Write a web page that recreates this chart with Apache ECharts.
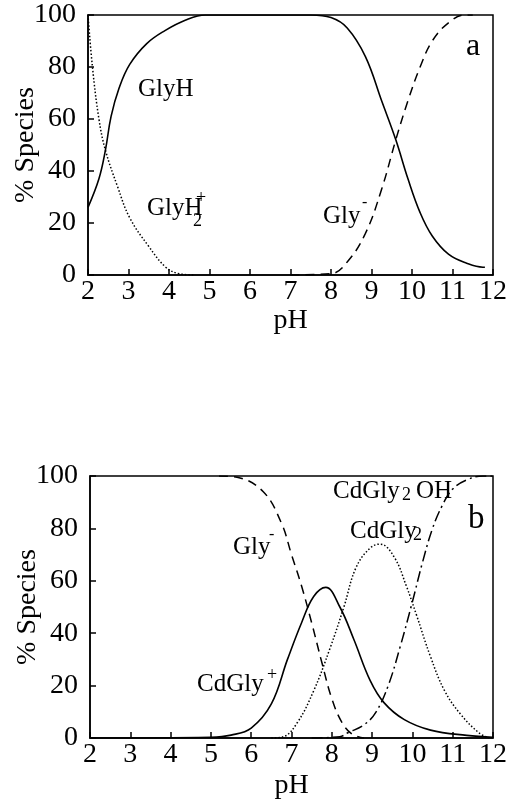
<!DOCTYPE html>
<html>
<head>
<meta charset="utf-8">
<script src="https://cdn.jsdelivr.net/npm/echarts@6/dist/echarts.min.js"></script>
<style>
  html, body { margin: 0; padding: 0; background: #fff; }
  #chart { width: 509px; height: 801px; }
</style>
</head>
<body>
<div id="chart"></div>
<script>
// panel a: glycine species
var phGlyH2 = [2, 2.11, 2.27, 2.43, 2.73, 3.03, 3.5, 3.92, 4.25, 4.6];
var valGlyH2 = [100, 80, 60, 48, 34, 22, 11, 3, 0.5, 0];

var phGlyH = [2, 2.27, 2.43, 2.57, 2.77, 3.03, 3.45, 3.9, 4.4, 4.9, 6, 7, 7.5, 8.0, 8.4, 8.85, 9.25, 9.6, 9.9, 10.2, 10.5, 10.9, 11.35, 11.75, 11.8];
var valGlyH = [26, 37, 48, 61, 72, 81, 89, 94, 98, 100, 100, 100, 100, 99, 95, 84, 67, 52, 37, 24, 15, 8, 4.5, 3, 3];

var phGlyA = [7, 8, 8.4, 8.85, 9.25, 9.6, 9.9, 10.2, 10.5, 10.9, 11.3, 11.5];
var valGlyA = [0, 0.5, 5, 16, 33, 52, 67, 80, 90, 97, 100, 100];

// panel b: Cd-glycine species
var phGlyB = [5.2, 5.65, 6.3, 6.75, 7.0, 7.25, 7.5, 7.75, 8.0, 8.25, 8.5, 8.8];
var valGlyB = [100, 99.5, 94, 82, 70, 58, 44, 29, 15, 6, 1.5, 0];

var phCdGly = [2, 5, 5.5, 6.0, 6.5, 6.9, 7.25, 7.55, 7.85, 8.2, 8.55, 8.95, 9.3, 9.8, 10.45, 11.35, 12];
var valCdGly = [0, 0.3, 1.1, 3.8, 13, 30, 44, 54, 57.5, 50, 37.5, 22, 13.4, 7, 3, 1, 0.3];

var phCdGly2 = [6.5, 6.8, 7.15, 7.55, 7.95, 8.3, 8.6, 8.95, 9.2, 9.55, 9.85, 10.1, 10.45, 10.8, 11.2, 11.65, 11.9];
var valCdGly2 = [0, 0.5, 6, 18, 34, 50, 65, 72.5, 74, 69, 58, 47, 31, 18, 9, 2, 0];

var phCdGly2OH = [7.5, 8.2, 8.4, 8.8, 9.1, 9.4, 9.7, 10.0, 10.25, 10.5, 10.75, 11.0, 11.35, 11.75, 12];
var valCdGly2OH = [0, 0.5, 2, 5, 10, 20, 35, 52, 67, 80, 89, 95, 98.5, 100, 100];

var yTicks = [0, 20, 40, 60, 80, 100];

function pairs(xs, ys) {
    var res = [];
    for (var i = 0; i < xs.length; i++) res.push([xs[i], ys[i]]);
    return res;
}

var FONT = '"Liberation Serif", "DejaVu Serif", serif';

function xAxisOf(idx) {
    return {
        type: 'value', gridIndex: idx, min: 2, max: 12, interval: 1,
        name: 'pH', nameLocation: 'middle', nameGap: idx === 0 ? 32 : 34,
        nameTextStyle: { fontFamily: FONT, fontSize: 28, color: '#000' },
        axisLine: { lineStyle: { color: '#000', width: 1.5 } },
        axisTick: { inside: true, length: 6, lineStyle: { color: '#000', width: 1.5 } },
        axisLabel: { fontFamily: FONT, fontSize: 28, color: '#000', margin: 3 },
        splitLine: { show: false }
    };
}

function yAxisOf(idx) {
    return {
        type: 'value', gridIndex: idx, min: 0, max: 100, interval: 20,
        name: '% Species', nameLocation: 'middle', nameGap: 48, nameMoveOverlap: false,
        nameTextStyle: { fontFamily: FONT, fontSize: 28, color: '#000' },
        axisLine: { lineStyle: { color: '#000', width: 1.5 } },
        axisTick: { inside: true, length: 6, lineStyle: { color: '#000', width: 1.5 } },
        axisLabel: { fontFamily: FONT, fontSize: 28, color: '#000', margin: 12,
            formatter: function (v) { return yTicks.indexOf(v) >= 0 ? v : ''; } },
        splitLine: { show: false }
    };
}

function line(name, idx, xs, ys, type, width) {
    return {
        name: name, type: 'line', xAxisIndex: idx, yAxisIndex: idx,
        data: pairs(xs, ys), smooth: 0.4, showSymbol: false, symbol: 'none',
        lineStyle: { color: '#000', width: width || 1.5, type: type },
        z: 3
    };
}

function txt(x, y, s, size) {
    return {
        type: 'text', left: x, top: y,
        style: { text: s, fontFamily: FONT, fontSize: size || 25, fill: '#000',
                 textVerticalAlign: 'middle' }
    };
}

var myChart = echarts.init(document.getElementById('chart'));

var option = {
    animation: false,
    backgroundColor: '#fff',
    grid: [
        { left: 88, right: 16, top: 15, height: 260, show: true, borderColor: '#000', borderWidth: 1.5,
          containLabel: false, outerBoundsMode: 'none' },
        { left: 90, right: 16, top: 476, height: 262, show: true, borderColor: '#000', borderWidth: 1.5,
          containLabel: false, outerBoundsMode: 'none' }
    ],
    xAxis: [xAxisOf(0), xAxisOf(1)],
    yAxis: [yAxisOf(0), yAxisOf(1)],
    series: [
        line('GlyH2+', 0, phGlyH2, valGlyH2, [1.5, 2], 1.5),
        line('GlyH', 0, phGlyH, valGlyH, 'solid', 1.6),
        line('Gly-', 0, phGlyA, valGlyA, [9, 6], 1.5),
        line('Gly-', 1, phGlyB, valGlyB, [9, 6], 1.5),
        line('CdGly+', 1, phCdGly, valCdGly, 'solid', 1.6),
        line('CdGly2', 1, phCdGly2, valCdGly2, [1.5, 2], 1.5),
        line('CdGly2OH', 1, phCdGly2OH, valCdGly2OH, [11, 4, 2, 4], 1.5)
    ],
    graphic: [
        // panel a labels
        txt(138, 77, 'GlyH'),
        txt(147, 196, 'GlyH'),
        txt(196, 189, '+', 18),
        txt(193, 212, '2', 18),
        txt(323, 204, 'Gly'),
        txt(362, 195, '-', 16),
        txt(466, 31, 'a', 32),
        // panel b labels
        txt(333, 479, 'CdGly'),
        txt(402, 486, '2', 18),
        txt(416, 479, 'OH'),
        txt(350, 519, 'CdGly'),
        txt(413, 526, '2', 18),
        txt(233, 535, 'Gly'),
        txt(269, 527, '-', 16),
        txt(197, 672, 'CdGly'),
        txt(267, 666, '+', 18),
        txt(468, 503, 'b', 33)
    ]
};

myChart.setOption(option);
</script>
</body>
</html>
